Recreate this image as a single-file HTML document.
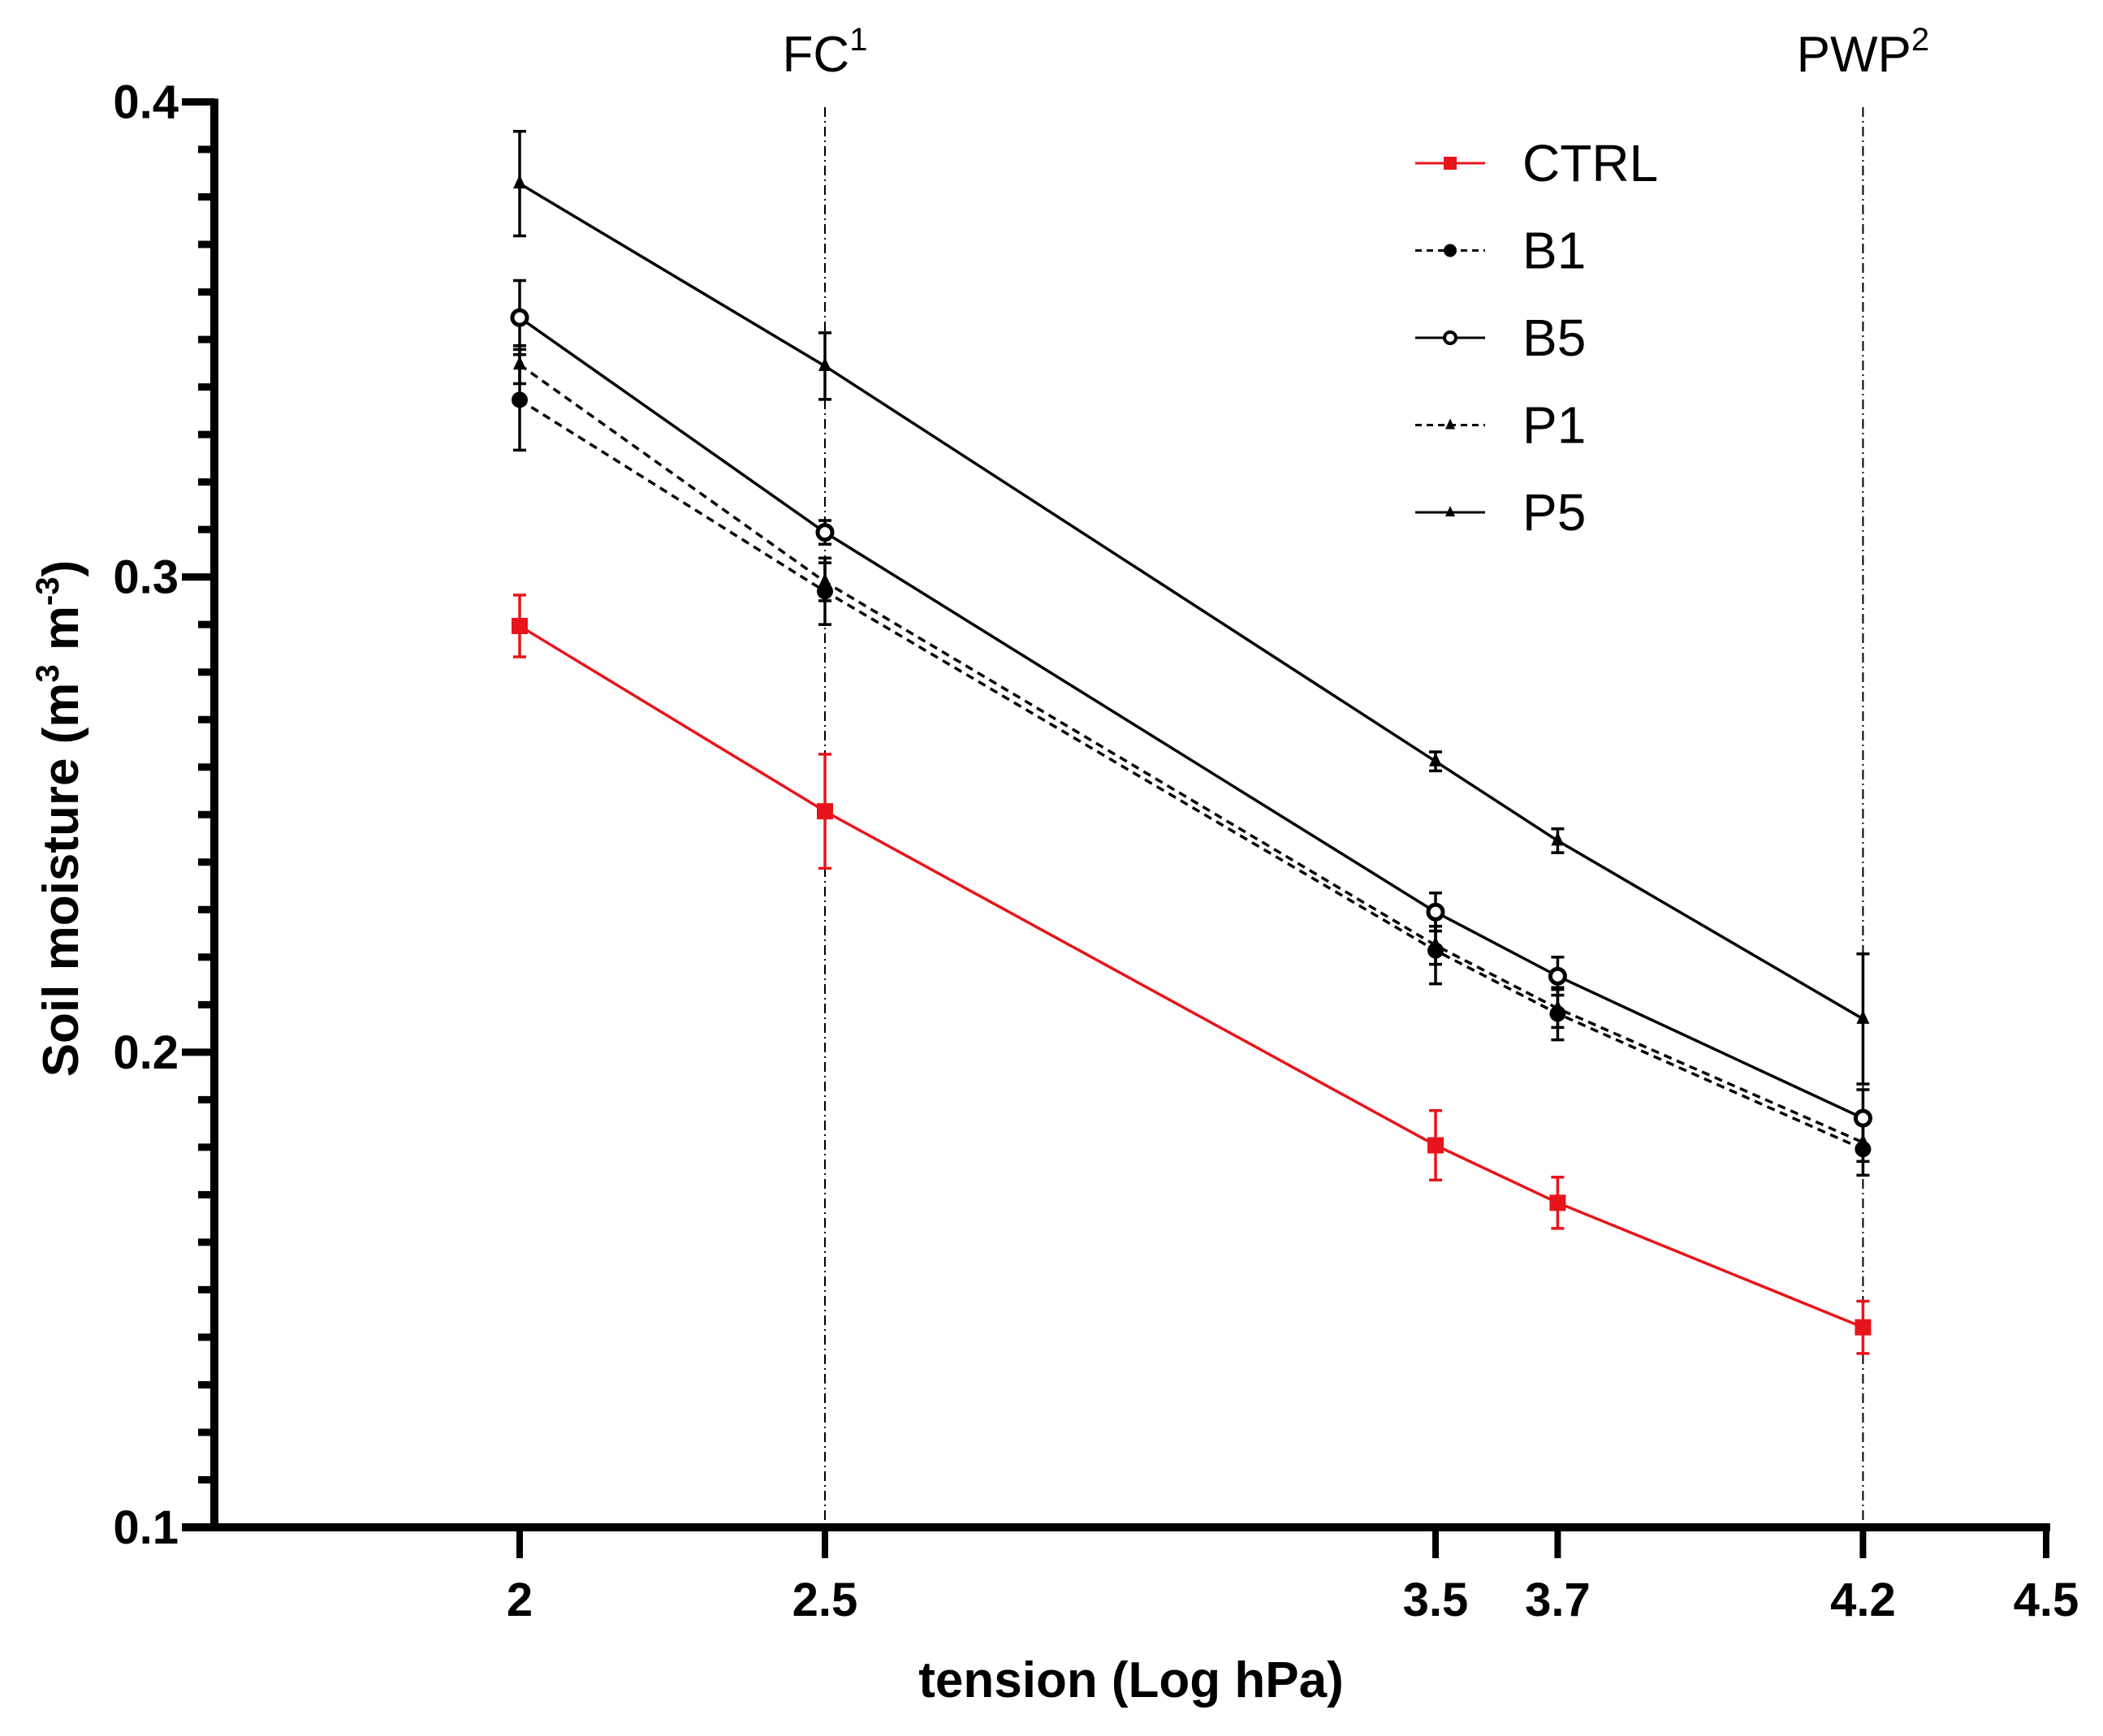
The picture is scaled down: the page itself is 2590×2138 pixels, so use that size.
<!DOCTYPE html>
<html><head><meta charset="utf-8"><style>
html,body{margin:0;padding:0;background:#fff;}
svg{display:block;font-family:"Liberation Sans",sans-serif;}
</style></head><body>
<svg id="chart" width="2590" height="2138" viewBox="0 0 2590 2138" xmlns="http://www.w3.org/2000/svg"></svg>
<script>
const xValues=[2,2.5,3.5,3.7,4.2];
const ctrlValues=[0.2897,0.2507,0.1804,0.1683,0.1421];
const ctrlErr=[0.0065,0.012,0.0073,0.0054,0.0055];
const b1Values=[0.3373,0.297,0.2214,0.2081,0.1796];
const b1Err=[0.0106,0.007,0.007,0.0055,0.0055];
const b5Values=[0.3546,0.3094,0.2295,0.216,0.1861];
const b5Err=[0.0078,0.0025,0.004,0.004,0.006];
const p1Values=[0.3447,0.299,0.2225,0.2092,0.181];
const p1Err=[0.004,0.004,0.004,0.004,0.004];
const p5Values=[0.3828,0.3444,0.2612,0.2445,0.207];
const p5Err=[0.011,0.007,0.002,0.0025,0.0137];
const xTicks=[2,2.5,3.5,3.7,4.2,4.5];
const yTicks=[0.1,0.2,0.3,0.4];
const refLines=[{x:2.5,label:"FC",sup:"1"},{x:4.2,label:"PWP",sup:"2"}];

const NS="http://www.w3.org/2000/svg";
const svg=document.getElementById('chart');
const X0=264,X1=2520,Y0=1881,Y1=125.5;
const xs=v=>X0+(v-1.5)/3*(X1-X0);
const ys=v=>Y0-(v-0.1)/0.3*(Y0-Y1);
function el(t,a,p){const e=document.createElementNS(NS,t);for(const k in a)e.setAttribute(k,a[k]);(p||svg).appendChild(e);return e;}

refLines.forEach(r=>{
  const l=el('line',{x1:xs(r.x),x2:xs(r.x),y1:132,y2:Y0,stroke:'#000','stroke-width':2,'stroke-dasharray':'12 5 2 5'});
  
  
  const t=el('text',{x:xs(r.x),y:88,'text-anchor':'middle','font-size':62});
  
  
  t.textContent=r.label;
  const s=el('tspan',{'font-size':40,dy:-26},t);s.textContent=r.sup;
});

const ya=el('line',{x1:X0,x2:X0,y1:Y1-4,y2:Y0+5,stroke:'#000','stroke-width':10});

const xa=el('line',{x1:X0-40,x2:X1+5,y1:Y0,y2:Y0,stroke:'#000','stroke-width':10});

for(let i=0;i<=30;i++){
  const v=0.1+i*0.01;const major=i%10===0;
  const t=el('line',{x1:major?X0-40:X0-20,x2:X0,y1:ys(v),y2:ys(v),stroke:'#000','stroke-width':9});
  
}
yTicks.forEach(v=>{
  const t=el('text',{x:220,y:ys(v)+20,'text-anchor':'end','font-size':58,'font-weight':'bold'});
  
  t.textContent=v.toFixed(1);
});
xTicks.forEach(v=>{
  const l=el('line',{x1:xs(v),x2:xs(v),y1:Y0,y2:Y0+38,stroke:'#000','stroke-width':8});
  
  const t=el('text',{x:xs(v),y:1990,'text-anchor':'middle','font-size':58,'font-weight':'bold'});
  
  t.textContent=String(v);
});
const xt=el('text',{x:1393,y:2090,'text-anchor':'middle','font-size':62,'font-weight':'bold'});

xt.textContent='tension (Log hPa)';
const yt=el('text',{x:0,y:0,'text-anchor':'middle','font-size':62,'font-weight':'bold',transform:'translate(96,1008) rotate(-90)'});

yt.textContent='Soil moisture (m';
let s1=el('tspan',{'font-size':40,dy:-24},yt);s1.textContent='3';
let s2=el('tspan',{dy:24},yt);s2.textContent=' m';
let s3=el('tspan',{'font-size':40,dy:-24},yt);s3.textContent='-3';
let s4=el('tspan',{dy:24},yt);s4.textContent=')';

function marker(g,type,x,y,color){
  let m;
  if(type==='square')m=el('rect',{x:x-10,y:y-10,width:20,height:20,fill:color},g);
  else if(type==='circle')m=el('circle',{cx:x,cy:y,r:10,fill:'#000'},g);
  else if(type==='ocircle')m=el('circle',{cx:x,cy:y,r:9,fill:'#fff',stroke:'#000','stroke-width':5},g);
  else m=el('polygon',{points:`${x},${y-11} ${x-8},${y+6} ${x+8},${y+6}`,fill:'#000'},g);
  
}
const series=[
 {name:'ctrl',vals:ctrlValues,err:ctrlErr,color:'#e8141b',dash:'',m:'square'},
 {name:'b1',vals:b1Values,err:b1Err,color:'#000',dash:'10 7',m:'circle'},
 {name:'p1',vals:p1Values,err:p1Err,color:'#000',dash:'10 7',m:'tri'},
 {name:'b5',vals:b5Values,err:b5Err,color:'#000',dash:'',m:'ocircle'},
 {name:'p5',vals:p5Values,err:p5Err,color:'#000',dash:'',m:'tri'}
];
series.forEach(s=>{
  const g=el('g',{});
  
  const pts=xValues.map((x,i)=>xs(x)+','+ys(s.vals[i])).join(' ');
  const pl=el('polyline',{points:pts,fill:'none',stroke:s.color,'stroke-width':3.5,'stroke-dasharray':s.dash},g);
  
  xValues.forEach((x,i)=>{
    const cx=xs(x),hi=ys(s.vals[i]+s.err[i]),lo=ys(s.vals[i]-s.err[i]);
    const eb=el('path',{d:`M${cx},${hi}V${lo}M${cx-8},${hi}H${cx+8}M${cx-8},${lo}H${cx+8}`,stroke:s.color,'stroke-width':3.5,fill:'none'},g);
    
    marker(g,s.m,cx,ys(s.vals[i]),s.color);
  });
});

const legend=[['CTRL','#e8141b','','square'],['B1','#000','8 6','circle'],['B5','#000','','ocircle'],['P1','#000','8 6','tri'],['P5','#000','','tri']];
const lg=el('g',{});
legend.forEach((L,i)=>{
  const y=201+i*107.5;
  const g=el('g',{},lg);
  el('line',{x1:1743,x2:1829,y1:y,y2:y,stroke:L[1],'stroke-width':3,'stroke-dasharray':L[2]},g);
  const c=1786;
  if(L[3]==='square')el('rect',{x:c-8,y:y-8,width:16,height:16,fill:L[1]},g);
  else if(L[3]==='circle')el('circle',{cx:c,cy:y,r:8,fill:'#000'},g);
  else if(L[3]==='ocircle')el('circle',{cx:c,cy:y,r:7,fill:'#fff',stroke:'#000','stroke-width':4},g);
  else el('polygon',{points:`${c},${y-8} ${c-6},${y+5} ${c+6},${y+5}`,fill:'#000'},g);
  const t=el('text',{x:1875,y:y+22,'font-size':64},g);t.textContent=L[0];
});
</script>
</body></html>
